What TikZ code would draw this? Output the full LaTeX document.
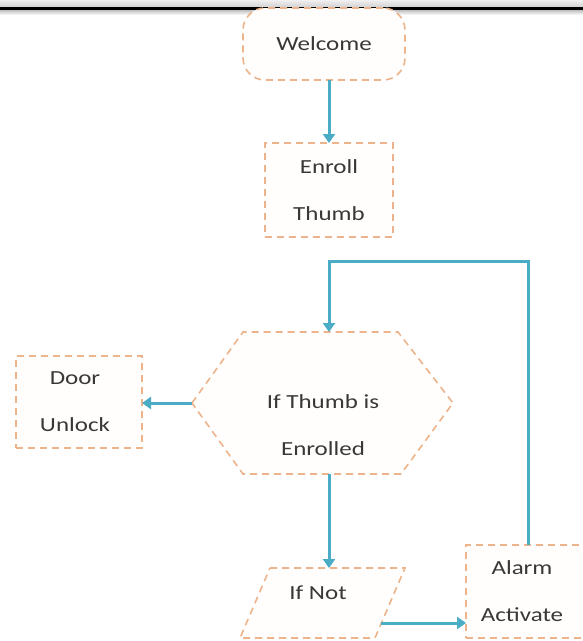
\documentclass[tikz,border=0pt]{standalone}
\usepackage{fontspec}
\setmainfont{Carlito}[FakeStretch=1.25]
\usetikzlibrary{arrows.meta}
\definecolor{flowline}{HTML}{4BACC6}
\definecolor{boxedge}{HTML}{EDB48C}
\definecolor{boxfill}{HTML}{FFFEFC}
\definecolor{labeltext}{HTML}{383838}
\tikzset{
  outline/.style={draw=boxedge, fill=boxfill, line width=1.6pt, dash pattern=on 7pt off 5pt},
  labelfont/.style={text=labeltext, font=\fontsize{20}{47}\selectfont, align=center},
  box/.style={outline, labelfont, inner sep=0pt, outer sep=0pt},
  frame/.style={inner sep=0pt, outer sep=0pt},
  flow/.style={draw=flowline, line width=3pt, -{Triangle[width=12pt,length=9pt]}},
}
\begin{document}
\begin{tikzpicture}[x=1pt,y=-1pt]
\useasboundingbox (0,0) rectangle (583,641);
\fill[white] (0,0) rectangle (583,641);

% window title strip
\shade[top color=gray!12, bottom color=gray!35] (0,0) rectangle (583,7);
\fill[black] (0,7) rectangle (583,10.5);
\shade[top color=gray!45, bottom color=white] (0,10.5) rectangle (583,15);

% vertical axis of the main flow
\coordinate (axis) at (329,0);

% start and process boxes
\node[box, rounded corners=22pt, minimum width=162pt, minimum height=72pt] (welcome) at (324,44) {Welcome};
\node[box, minimum width=128pt, minimum height=94pt] (enroll) at (329,190) {Enroll\\Thumb};
\node[box, minimum width=126pt, minimum height=92pt] (door) at (79,402) {};
\node[labelfont] (doortext) at (75,401.5) {Door\\Unlock};

% decision hexagon
\node[frame, minimum width=261pt, minimum height=142pt] (cond) at (322.5,403) {};
\path[outline] (cond.west) -- ([xshift=51pt]cond.north west) -- ([xshift=-55pt]cond.north east)
  -- (cond.east) -- ([xshift=-52pt]cond.south east) -- ([xshift=51pt]cond.south west) -- cycle;
\node[labelfont] (condtext) at (323,425) {If Thumb is\\Enrolled};

% "If Not" parallelogram
\node[frame, minimum width=165pt, minimum height=70pt] (ifnot) at (322.5,603) {};
\path[outline] ([xshift=30pt]ifnot.north west) -- (ifnot.north east)
  -- ([xshift=-30pt]ifnot.south east) -- (ifnot.south west) -- cycle;
\node[labelfont] (ifnottext) at (318,593) {If Not};
\coordinate (ifnotexit) at (381,623);

% alarm box
\node[box, minimum width=130pt, minimum height=93pt] (alarm) at (531,591.5) {};
\node[labelfont] (alarmtext) at (522,591.5) {Alarm\\Activate};

% connectors
\draw[flow] (welcome.south -| enroll.north) -- (enroll.north);
\draw[flow] (cond.west) -- (door.east |- cond.west);
\draw[flow] (cond.south -| axis) -- (ifnot.north -| axis);
\draw[flow] (ifnotexit) -- (alarm.west |- ifnotexit);
\coordinate (loopcorner) at (528,261);
\draw[flow] (alarm.north -| loopcorner) -- (loopcorner) -| (cond.north -| axis);
\end{tikzpicture}
\end{document}
